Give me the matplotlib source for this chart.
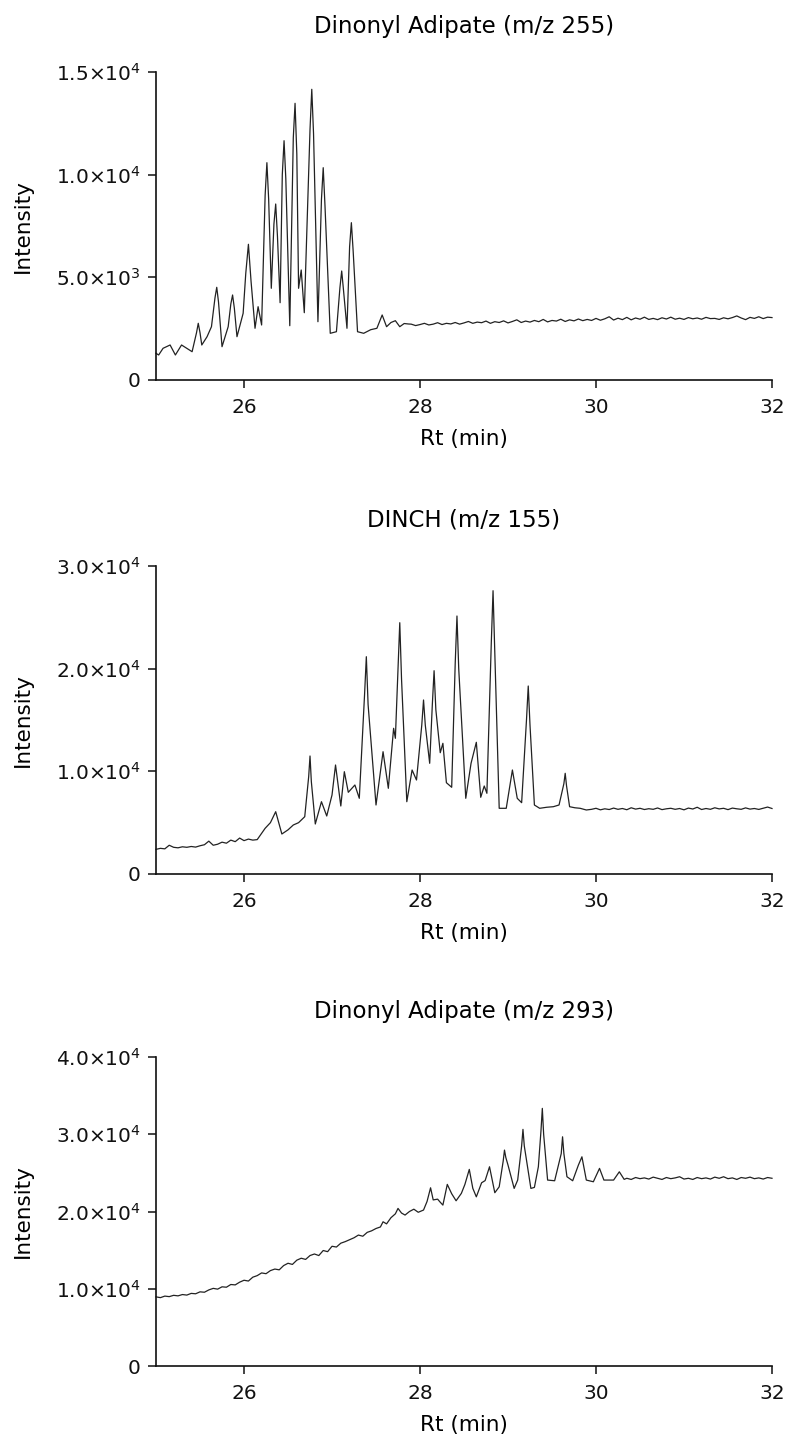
import numpy as np
import matplotlib
matplotlib.use("Agg")
import matplotlib.pyplot as plt

plt.rcParams['font.family'] = ['DejaVu Sans']
plt.rcParams['mathtext.fontset'] = 'dejavusans'

# ---------------- Panel 1: Dinonyl Adipate (m/z 255) ----------------
title1 = "Dinonyl Adipate (m/z 255)"
rt1_peaks = [25.00, 25.03, 25.08, 25.16, 25.22, 25.29, 25.35, 25.41, 25.46, 25.48, 25.50,
             25.52, 25.58, 25.63, 25.67, 25.69, 25.71, 25.75, 25.82, 25.85, 25.87, 25.89,
             25.92, 25.99, 26.02, 26.05, 26.08, 26.125, 26.16, 26.20, 26.24, 26.26, 26.28,
             26.31, 26.34, 26.36, 26.38, 26.41, 26.435, 26.455, 26.475, 26.52, 26.56,
             26.58, 26.60, 26.62, 26.65, 26.685, 26.75, 26.77, 26.79, 26.84, 26.88, 26.90,
             26.92, 26.98, 27.05, 27.09, 27.11, 27.13, 27.17, 27.20, 27.22, 27.24, 27.29,
             27.36, 27.44, 27.51, 27.57, 27.62, 27.67, 27.72, 27.77, 27.82, 27.87]
int1_peaks = [1300, 1218, 1544, 1705, 1218, 1705, 1544, 1378, 2300, 2761, 2300,
              1705, 2109, 2596, 4000, 4514, 3800, 1622, 2596, 3700, 4140, 3500,
              2109, 3248, 5200, 6609, 4800, 2518, 3570, 2679, 9000, 10583, 8800,
              4466, 7600, 8571, 7000, 3765, 10000, 11654, 9800, 2644, 11800,
              13475, 11000, 4466, 5357, 3278, 12200, 14157, 12000, 2839, 8800, 10339,
              8500, 2274, 2352, 4500, 5308, 4400, 2518, 6500, 7661, 6300, 2352,
              2274, 2450, 2518, 3166, 2596, 2800, 2888, 2596, 2750, 2727]
rt1_base_start = 27.90
int1_base = [2720, 2650, 2700, 2760, 2680, 2720, 2790, 2700, 2760, 2730, 2800, 2720, 2780,
             2850, 2760, 2820, 2790, 2870, 2760, 2840, 2800, 2880, 2780, 2850, 2930, 2800,
             2870, 2820, 2900, 2840, 2950, 2830, 2900, 2870, 2960, 2850, 2930, 2880, 2970,
             2890, 2950, 2900, 3000, 2910, 2980, 3080, 2920, 3010, 2940, 3050, 2930, 3020,
             2960, 3060, 2950, 3000, 2940, 3030, 2970, 3060, 2960, 3010, 2950, 3040, 2980,
             3020, 2960, 3050, 2990, 3000, 2950, 3030, 2980, 3040, 3120, 3020, 2940, 3050,
             3000, 3080, 2990, 3060, 3040]
yticks1 = [0, 5000, 10000, 15000]
yticklabels1 = ["0", r"5.0×10$^{3}$", r"1.0×10$^{4}$", r"1.5×10$^{4}$"]

# ---------------- Panel 2: DINCH (m/z 155) ----------------
title2 = "DINCH (m/z 155)"
rt2_early_start = 25.00
int2_early = [2400, 2500, 2450, 2800, 2600, 2550, 2650, 2600, 2680, 2620, 2750, 2850,
              3200, 2800, 2900, 3100, 3000, 3300, 3150, 3500, 3250, 3400, 3300, 3350]
rt2_peaks = [26.24, 26.30, 26.36, 26.43, 26.50, 26.56, 26.62, 26.69, 26.735, 26.75, 26.765,
             26.81, 26.88, 26.94, 27.00, 27.04, 27.10, 27.14, 27.185, 27.26, 27.31, 27.37,
             27.39, 27.41, 27.50, 27.58, 27.64, 27.70, 27.72, 27.75, 27.77, 27.79, 27.85,
             27.91, 27.96, 28.02, 28.04, 28.06, 28.11, 28.14, 28.16, 28.18, 28.23, 28.26,
             28.30, 28.36, 28.40, 28.42, 28.44, 28.52, 28.58, 28.64, 28.69, 28.73, 28.76,
             28.81, 28.83, 28.85, 28.90, 28.98, 29.05, 29.105, 29.155, 29.21, 29.23, 29.25,
             29.30, 29.36, 29.44, 29.515, 29.58, 29.635, 29.65, 29.665, 29.70, 29.76, 29.82,
             29.89]
int2_peaks = [4451, 5000, 6068, 3896, 4300, 4773, 5000, 5581, 9500, 11493, 9000,
              4870, 7042, 5649, 7695, 10617, 6623, 9964, 7958, 8669, 7373, 17500,
              21165, 16500, 6721, 11912, 8347, 14191, 13217, 20000, 24477, 19000, 7042,
              10130, 9156, 14500, 16948, 14500, 10782, 16500, 19801, 16000, 11815, 12730,
              8893, 8445, 20500, 25129, 20000, 7373, 10782, 12828, 7471, 8571, 7860,
              22500, 27594, 21500, 6399, 6399, 10130, 7373, 6945, 15000, 18311, 14500,
              6721, 6399, 6500, 6555, 6721, 8800, 9808, 8600, 6555, 6450, 6399,
              6234]
rt2_base_start = 29.95
int2_base = [6300, 6400, 6250, 6350, 6280, 6420, 6300, 6380, 6260, 6450, 6320, 6400,
             6280, 6360, 6300, 6430, 6270, 6350, 6400, 6300, 6380, 6250, 6420, 6330,
             6500, 6280, 6380, 6300, 6450, 6340, 6400, 6270, 6420, 6350, 6300, 6440,
             6320, 6380, 6290, 6400, 6520, 6380]
yticks2 = [0, 10000, 20000, 30000]
yticklabels2 = ["0", r"1.0×10$^{4}$", r"2.0×10$^{4}$", r"3.0×10$^{4}$"]

# ---------------- Panel 3: Dinonyl Adipate (m/z 293) ----------------
title3 = "Dinonyl Adipate (m/z 293)"
rt3_early_start = 25.00
int3_early = [8950, 8850, 9050, 8980, 9150, 9080, 9250, 9180, 9400, 9350, 9600, 9550,
              9850, 10050, 9950, 10250, 10200, 10550, 10500, 10850, 11100, 11000, 11500,
              11700, 12050, 11950, 12350, 12550, 12450, 13000, 13300, 13150, 13700, 13950,
              13800, 14300, 14500, 14300, 14950, 14800, 15500, 15400, 15900, 16100, 16350,
              16600, 16950, 16800, 17300, 17500, 17800]
rt3_peaks = [27.55, 27.58, 27.62, 27.67, 27.72, 27.75, 27.79, 27.83, 27.88, 27.93, 27.98,
             28.04, 28.08, 28.12, 28.15, 28.20, 28.23, 28.26, 28.31, 28.36, 28.41, 28.47,
             28.51, 28.56, 28.60, 28.64, 28.70, 28.74, 28.79, 28.85, 28.90, 28.945, 28.96,
             28.975, 29.00, 29.07, 29.11, 29.155, 29.17, 29.185, 29.21, 29.26, 29.30, 29.345,
             29.375, 29.39, 29.405, 29.45, 29.53, 29.605, 29.62, 29.635, 29.67, 29.735,
             29.80, 29.84, 29.89, 29.97, 30.04, 30.09, 30.20, 30.265, 30.32]
int3_peaks = [18000, 18670, 18400, 19200, 19700, 20400, 19800, 19540, 20000, 20300, 19900,
              20190, 21300, 23070, 21500, 21600, 21200, 20830, 23510, 22300, 21390, 22350,
              23500, 25450, 23000, 21900, 23720, 24000, 25790, 22430, 23200, 26500, 27950,
              27000, 26010, 22990, 24070, 28500, 30630, 28500, 26660, 22990, 23120, 25790,
              30500, 33350, 30000, 24070, 23980, 27500, 29670, 27500, 24500, 23980,
              26010, 27080, 24070, 23850, 25580, 24070, 24070, 25140, 24160]
rt3_base_start = 30.35
int3_base = [24300, 24150, 24400, 24250, 24350, 24200, 24450, 24300, 24150, 24400, 24250,
             24350, 24500, 24200, 24300, 24150, 24400, 24250, 24350, 24200, 24450, 24300,
             24500, 24250, 24350, 24150, 24400, 24300, 24450, 24250, 24350, 24200, 24400,
             24300]
yticks3 = [0, 10000, 20000, 30000, 40000]
yticklabels3 = ["0", r"1.0×10$^{4}$", r"2.0×10$^{4}$", r"3.0×10$^{4}$", r"4.0×10$^{4}$"]

xticks = [26, 28, 30, 32]
xlabel = "Rt (min)"
ylabel = "Intensity"
step = 0.05


def grid(start, values):
    return start + step * np.arange(len(values))


def assemble(parts):
    xs, ys = [], []
    for x, y in parts:
        xs.extend(list(x))
        ys.extend(list(y))
    return np.array(xs), np.array(ys)


x1, y1 = assemble([(rt1_peaks, int1_peaks), (grid(rt1_base_start, int1_base), int1_base)])
x2, y2 = assemble([(grid(rt2_early_start, int2_early), int2_early), (rt2_peaks, int2_peaks),
                   (grid(rt2_base_start, int2_base), int2_base)])
x3, y3 = assemble([(grid(rt3_early_start, int3_early), int3_early), (rt3_peaks, int3_peaks),
                   (grid(rt3_base_start, int3_base), int3_base)])

panels = [
    (title1, x1, y1, yticks1, yticklabels1, [0.1975, 0.73648, 0.7797, 0.21359]),
    (title2, x2, y2, yticks2, yticklabels2, [0.1975, 0.39390, 0.7797, 0.21359]),
    (title3, x3, y3, yticks3, yticklabels3, [0.1975, 0.05270, 0.7797, 0.21429]),
]

fig = plt.figure(figsize=(7.9, 14.42), dpi=100)
for title, x, y, yt, ytl, rect in panels:
    ax = fig.add_axes(rect)
    ax.plot(x, y, color="#222222", lw=0.9, clip_on=False)
    ax.set_xlim(25, 32)
    ax.set_ylim(yt[0], yt[-1])
    ax.set_xticks(xticks)
    ax.set_xticklabels([str(v) for v in xticks])
    ax.set_yticks(yt)
    ax.set_yticklabels(ytl)
    for s in ["top", "right"]:
        ax.spines[s].set_visible(False)
    for s in ["left", "bottom"]:
        ax.spines[s].set_linewidth(1.2)
        ax.spines[s].set_color("#111111")
    ax.tick_params(axis="both", direction="out", length=6, width=1.1, labelsize=14.5,
                   colors="#111111")
    ax.tick_params(axis="y", pad=5)
    ax.tick_params(axis="x", pad=7)
    ax.set_xlabel(xlabel, fontsize=15.5)
    ax.xaxis.set_label_coords(0.5, -0.158)
    ax.set_ylabel(ylabel, fontsize=15.5)
    ax.yaxis.set_label_coords(-0.2, 0.5)
    ax.text(0.5, 1.148, title, transform=ax.transAxes, ha="center", va="center", fontsize=16.5)

fig.savefig("out.png", dpi=100)
